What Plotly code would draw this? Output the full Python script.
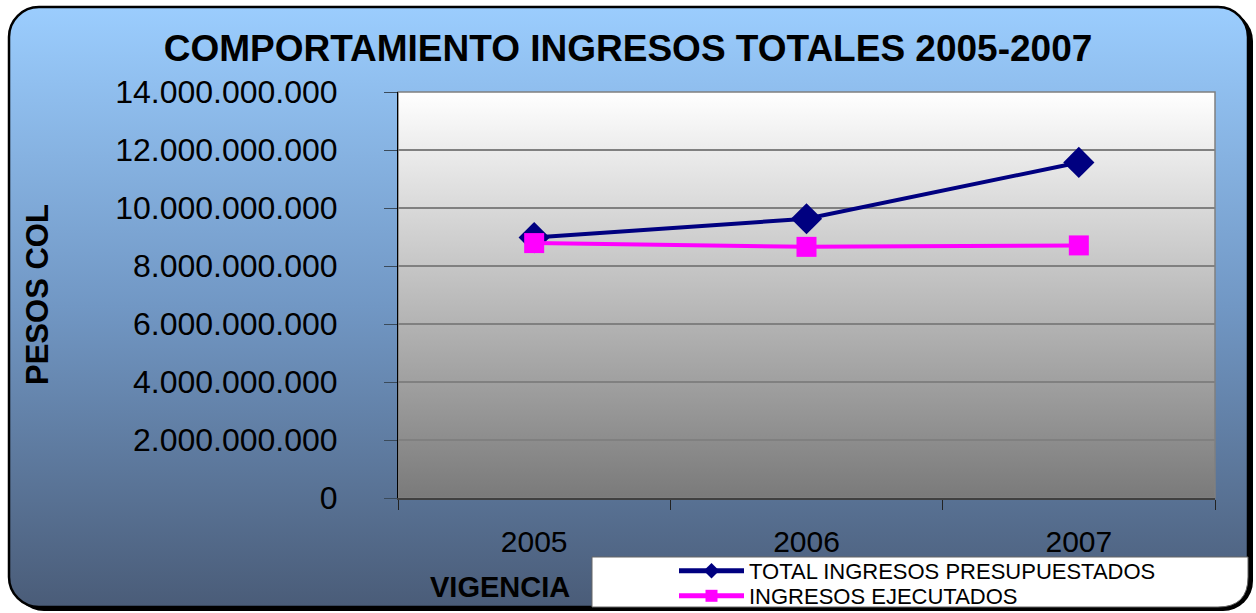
import base64
import plotly.graph_objects as go

# ---- data ----
years = ["2005", "2006", "2007"]
presupuestado = [8.98e9, 9.63e9, 11.57e9]
ejecutado = [8.79e9, 8.66e9, 8.71e9]
y_ticks = [0, 2e9, 4e9, 6e9, 8e9, 10e9, 12e9, 14e9]
series_names = ["TOTAL INGRESOS PRESUPUESTADOS", "INGRESOS EJECUTADOS"]
title_text = "COMPORTAMIENTO INGRESOS TOTALES 2005-2007"
y_title = "PESOS COL"
x_title = "VIGENCIA"

# ---- geometry (pixels) ----
FW, FH = 1256, 613
L, R, T, B = 398, 1215, 92, 498
W, H = R - L, B - T

def px_x(x):
    return (x - L) / W

def px_y(y):
    return (B - y) / H

def svg_uri(svg):
    return "data:image/svg+xml;base64," + base64.b64encode(svg.encode()).decode()

frame_svg = f"""<svg xmlns='http://www.w3.org/2000/svg' width='{FW}' height='{FH}' viewBox='0 0 {FW} {FH}'>
<defs><linearGradient id='g' x1='0' y1='0' x2='0' y2='1'>
<stop offset='0' stop-color='#9BCDFE'/><stop offset='0.5' stop-color='#7197C4'/><stop offset='1' stop-color='#4A5C78'/>
</linearGradient></defs>
<rect x='14' y='11' width='1239' height='600' rx='30' ry='30' fill='#000'/>
<rect x='9' y='7' width='1239' height='600' rx='30' ry='30' fill='url(#g)' stroke='#000' stroke-width='2.5'/>
<path d='M592,557 H1248 V577 Q1248,607 1218,607 H592 Z' fill='#fff' stroke='#666' stroke-width='1'/>
</svg>"""

plot_svg = f"""<svg xmlns='http://www.w3.org/2000/svg' width='{W}' height='{H}' viewBox='0 0 {W} {H}' preserveAspectRatio='none'>
<defs><linearGradient id='p' x1='0' y1='0' x2='0' y2='1'>
<stop offset='0' stop-color='#FFFFFF'/><stop offset='1' stop-color='#7A7A7A'/>
</linearGradient></defs>
<rect x='0' y='0' width='{W}' height='{H}' fill='url(#p)'/>
</svg>"""

FONT = "Liberation Sans, Arial, sans-serif"

fig = go.Figure()
fig.add_trace(go.Scatter(
    x=years, y=presupuestado, name=series_names[0], mode="lines+markers",
    line=dict(color="#000080", width=4),
    marker=dict(symbol="diamond", size=24, color="#000080"),
    legend="legend",
))
fig.add_trace(go.Scatter(
    x=years, y=ejecutado, name=series_names[1], mode="lines+markers",
    line=dict(color="#FF00FF", width=4),
    marker=dict(symbol="square", size=20, color="#FF00FF"),
    legend="legend2",
))

legend_common = dict(xanchor="left", yanchor="middle",
                     bgcolor="rgba(0,0,0,0)", borderwidth=0,
                     font=dict(size=22, family=FONT, color="black"),
                     itemwidth=65, tracegroupgap=0, itemsizing="constant")

fig.update_layout(
    width=FW, height=FH,
    margin=dict(l=L, r=FW - R, t=T, b=FH - B, autoexpand=False),
    paper_bgcolor="white",
    plot_bgcolor="rgba(0,0,0,0)",
    separators=",.",
    font=dict(family=FONT, color="black"),
    title=dict(text="<b>" + title_text + "</b>", x=0.5, xanchor="center",
               y=1 - 48 / FH, yanchor="middle",
               font=dict(size=37, family=FONT, color="black")),
    showlegend=True,
    legend=dict(x=px_x(674), y=px_y(571), **legend_common),
    legend2=dict(x=px_x(674), y=px_y(596), **legend_common),
    images=[
        dict(source=svg_uri(frame_svg), xref="paper", yref="paper",
             x=px_x(0), y=px_y(0), sizex=FW / W, sizey=FH / H,
             xanchor="left", yanchor="top", sizing="stretch", layer="below"),
        dict(source=svg_uri(plot_svg), xref="paper", yref="paper",
             x=0, y=1, sizex=1, sizey=1,
             xanchor="left", yanchor="top", sizing="stretch", layer="below"),
    ],
    shapes=[
        dict(type="rect", xref="paper", yref="paper", x0=0, x1=1, y0=0, y1=1,
             line=dict(color="#808080", width=1.5), layer="below"),
    ],
    annotations=[
        dict(text="<b>" + y_title + "</b>", xref="paper", yref="paper",
             x=px_x(37), y=px_y(295), xanchor="center", yanchor="middle",
             textangle=-90, showarrow=False,
             font=dict(size=31, family=FONT, color="black")),
        dict(text="<b>" + x_title + "</b>", xref="paper", yref="paper",
             x=px_x(428), y=px_y(587), xanchor="left", yanchor="middle",
             showarrow=False,
             font=dict(size=29, family=FONT, color="black")),
    ],
)

fig.update_xaxes(
    type="category", range=[-0.5, 2.5],
    tickson="boundaries", ticks="outside", ticklen=10, tickcolor="#222",
    showgrid=False, showline=True, linecolor="#404040", linewidth=1.5,
    tickfont=dict(size=30, family=FONT, color="black"),
    ticklabelstandoff=16, zeroline=False,
)
fig.update_yaxes(
    range=[0, 14e9], tickvals=y_ticks, tickformat=",.0f",
    ticks="outside", ticklen=13, tickcolor="#3A4A5A",
    showgrid=True, gridcolor="#808080", gridwidth=1.5,
    showline=True, linecolor="black", linewidth=1,
    zeroline=False,
    tickfont=dict(size=32, family=FONT, color="black"),
    ticklabelstandoff=40,
)

fig.write_html("out.html", config={"displayModeBar": False},
               post_script="document.body.style.margin='0';document.body.style.overflow='hidden';")
